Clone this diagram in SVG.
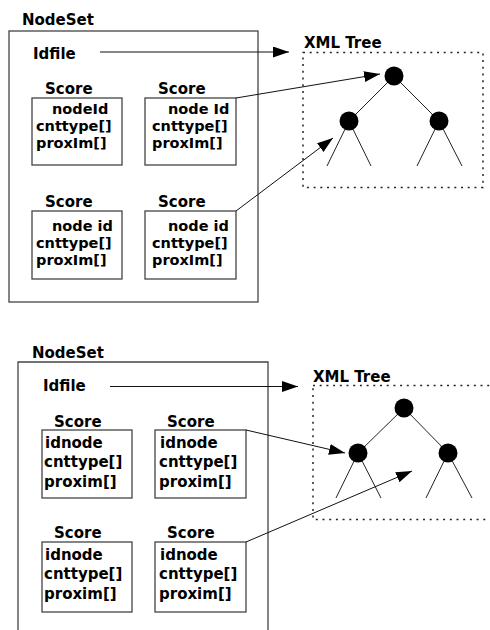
<svg xmlns="http://www.w3.org/2000/svg" width="490" height="630" viewBox="0 0 490 630">
<style>
text{font-family:"DejaVu Sans","Liberation Sans",sans-serif;font-weight:bold;font-size:15px;fill:#000}
.f{font-size:14.5px}
.box{fill:none;stroke:#444;stroke-width:1.3}
.dot{fill:none;stroke:#222;stroke-width:1.5;stroke-dasharray:2 4.7}
.edge{stroke:#222;stroke-width:1;fill:none}
.tn{fill:#000}
.conn{stroke:#111;stroke-width:1;fill:none;marker-end:url(#ah)}
</style>
<defs>
<marker id="ah" markerUnits="userSpaceOnUse" markerWidth="17" markerHeight="12" refX="16" refY="5.5" orient="auto">
<path d="M0,0 L16,5.5 L0,11 z" fill="#000"/>
</marker>
</defs>
<rect width="490" height="630" fill="#fff"/>

<!-- TOP -->
<g id="nodeset-top">
<text x="22" y="25">NodeSet</text>
<rect class="box" x="9" y="31" width="249" height="271"/>
<text x="33" y="59">Idfile</text>
</g>
<g id="score-top-1">
<text x="45" y="94">Score</text>
<rect class="box" x="32" y="98" width="90" height="67"/>
<text class="f" x="52" y="114">nodeId</text>
<text class="f" x="36" y="131">cnttype[]</text>
<text class="f" x="36" y="148">proxIm[]</text>
</g>
<g id="score-top-2">
<text x="158" y="94">Score</text>
<rect class="box" x="145" y="98" width="91" height="67"/>
<text class="f" x="168" y="114">node Id</text>
<text class="f" x="152" y="131">cnttype[]</text>
<text class="f" x="152" y="148">proxIm[]</text>
</g>
<g id="score-top-3">
<text x="45" y="207">Score</text>
<rect class="box" x="32" y="211" width="90" height="68"/>
<text class="f" x="52" y="231">node id</text>
<text class="f" x="36" y="248">cnttype[]</text>
<text class="f" x="36" y="265">proxIm[]</text>
</g>
<g id="score-top-4">
<text x="158" y="207">Score</text>
<rect class="box" x="145" y="211" width="91" height="68"/>
<text class="f" x="168" y="231">node id</text>
<text class="f" x="152" y="248">cnttype[]</text>
<text class="f" x="152" y="265">proxIm[]</text>
</g>
<g id="xmltree-top">
<text x="304" y="48">XML Tree</text>
<rect class="dot" x="303" y="52.5" width="180" height="135"/>
<path class="edge" d="M394,76 L349,121 M394,76 L439,121 M349,121 L327,166 M349,121 L371,166 M439,121 L417,166 M439,121 L462,166"/>
<circle class="tn" cx="394" cy="76" r="9.5"/>
<circle class="tn" cx="349" cy="121" r="9.5"/>
<circle class="tn" cx="439" cy="121" r="9.5"/>
</g>

<!-- BOTTOM -->
<g id="nodeset-bottom">
<text x="32" y="358">NodeSet</text>
<path class="box" d="M18,640 V362 H268 V640"/>
<text x="43" y="391">Idfile</text>
</g>
<g id="score-bottom-1">
<text x="54" y="427">Score</text>
<rect class="box" x="42" y="430" width="90" height="68"/>
<text x="45" y="448">idnode</text>
<text x="44" y="467">cnttype[]</text>
<text x="44" y="487">proxim[]</text>
</g>
<g id="score-bottom-2">
<text x="167" y="427">Score</text>
<rect class="box" x="155" y="430" width="91" height="68"/>
<text x="160" y="448">idnode</text>
<text x="159" y="467">cnttype[]</text>
<text x="159" y="487">proxim[]</text>
</g>
<g id="score-bottom-3">
<text x="54" y="538">Score</text>
<rect class="box" x="42" y="542" width="90" height="70"/>
<text x="45" y="560">idnode</text>
<text x="44" y="579">cnttype[]</text>
<text x="44" y="599">proxim[]</text>
</g>
<g id="score-bottom-4">
<text x="167" y="538">Score</text>
<rect class="box" x="155" y="542" width="91" height="70"/>
<text x="160" y="560">idnode</text>
<text x="159" y="579">cnttype[]</text>
<text x="159" y="599">proxim[]</text>
</g>
<g id="xmltree-bottom">
<text x="313" y="382">XML Tree</text>
<rect class="dot" x="313" y="385.5" width="190" height="134"/>
<path class="edge" d="M404,408 L358,453 M404,408 L448,453 M358,453 L336,498 M358,453 L381,498 M448,453 L426,498 M448,453 L472,498"/>
<circle class="tn" cx="404" cy="408" r="9.5"/>
<circle class="tn" cx="358" cy="453" r="9.5"/>
<circle class="tn" cx="448" cy="453" r="9.5"/>
</g>

<g id="connectors">
<line class="conn" x1="100" y1="52" x2="289" y2="52"/>
<line class="conn" x1="236" y1="98" x2="380" y2="74"/>
<line class="conn" x1="236" y1="211" x2="333" y2="138"/>
<line class="conn" x1="110" y1="386.5" x2="298" y2="386.5"/>
<line class="conn" x1="246" y1="430" x2="345" y2="453"/>
<line class="conn" x1="246" y1="542" x2="412" y2="471"/>
</g>
</svg>
